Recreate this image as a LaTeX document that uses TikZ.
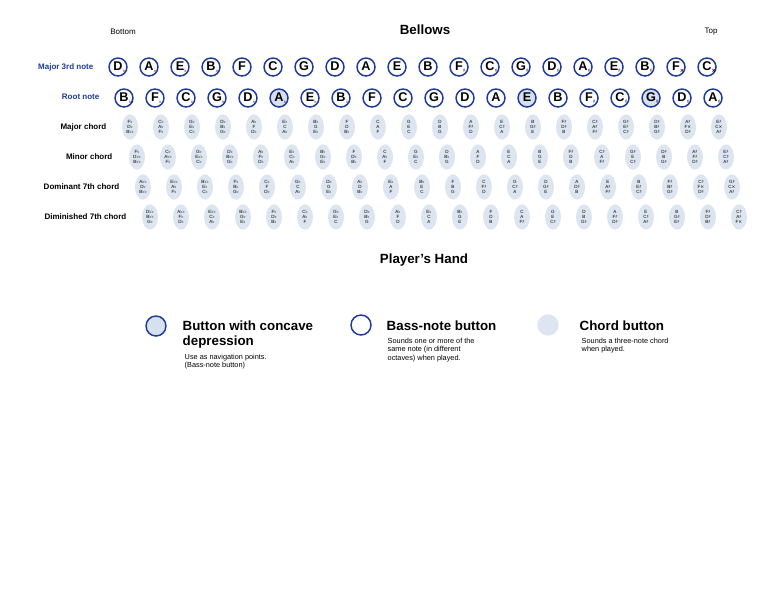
\documentclass[tikz,border=0pt]{standalone}
\usepackage{fontspec}
\setmainfont{Liberation Sans}
\newfontfamily\symf{DejaVu Sans}
\definecolor{bblue}{HTML}{1F3A9A}
\definecolor{lblue}{HTML}{DDE6F0}
\definecolor{cblue}{HTML}{D6E0EE}
\newcommand\nmL[1]{\pgfmathtruncatemacro\nmk{#1+15}\pgfmathtruncatemacro\nml{mod(\nmk,7)}\ifcase\nml F\or C\or G\or D\or A\or E\or B\fi}
\newcommand\nmA[1]{\pgfmathtruncatemacro\nmk{#1+15}\pgfmathtruncatemacro\nma{floor(\nmk/7)}{\symf\ifcase\nma ♭♭\or ♭\or \or ♯\or ×\fi}}
\newcommand\nm[1]{\nmL{#1}\nmA{#1}}
\begin{document}
\begin{tikzpicture}[x=0.75pt,y=-0.75pt,
  bass/.style={circle,draw=bblue,line width=1.1pt,fill=white,minimum size=13.5pt,inner sep=0pt,font=\bfseries\fontsize{9.5}{10}\selectfont},
  concave/.style={bass,fill=cblue},
  chordb/.style={ellipse,fill=lblue,minimum width=12pt,minimum height=19pt,inner sep=0pt,align=center,font=\fontsize{3.4}{3.9}\selectfont},
  rowlab/.style={anchor=east,font=\bfseries\fontsize{6}{7}\selectfont},
  head/.style={font=\bfseries\fontsize{10}{11}\selectfont},
  small/.style={font=\fontsize{5.5}{6.5}\selectfont,align=left,anchor=north west}]
\useasboundingbox (0,0) rectangle (768,593);
\usetikzlibrary{shapes.geometric}
\node[font=\fontsize{6}{7}\selectfont] (bottom) at (123,32) {Bottom};
\node[head] (bellows) at (425,30) {Bellows};
\node[font=\fontsize{6}{7}\selectfont] (top) at (711,32) {Top};
\node[rowlab,text=bblue] (l1) at (98,67) {Major 3rd note};
\node[rowlab,text=bblue] (l2) at (104,97) {Root note};
\node[rowlab] (l3) at (111,127) {Major chord};
\node[rowlab] (l4) at (117,157) {Minor chord};
\node[rowlab] (l5) at (124,187) {Dominant 7th chord};
\node[rowlab] (l6) at (131,217) {Diminished 7th chord};
\foreach \i in {0,...,19}{
  \pgfmathtruncatemacro\n{\i-9}
  \pgfmathtruncatemacro\t{\n+4}
  \node[bass] (m\i) at (118+31*\i,67) {\nmL{\t}\rlap{\raisebox{-1.5pt}{\fontsize{4}{4}\selectfont\nmA{\t}}}};
  \ifnum\i=5 \def\st{concave}\else\ifnum\i=13 \def\st{concave}\else\ifnum\i=17 \def\st{concave}\else\def\st{bass}\fi\fi\fi
  \node[\st] (r\i) at (124+31*\i,98) {\nmL{\n}\rlap{\raisebox{-1.5pt}{\fontsize{4}{4}\selectfont\nmA{\n}}}};
  \pgfmathtruncatemacro\a{\n+1}\pgfmathtruncatemacro\b{\n+4}
  \node[chordb] (M\i) at (130+31*\i,127) {\nm{\a}\\\nm{\b}\\\nm{\n}};
  \pgfmathtruncatemacro\b{\n-3}
  \node[chordb] (N\i) at (137+31*\i,157) {\nm{\a}\\\nm{\b}\\\nm{\n}};
  \pgfmathtruncatemacro\a{\n-2}\pgfmathtruncatemacro\b{\n+4}
  \node[chordb] (S\i) at (143+31*\i,187) {\nm{\a}\\\nm{\b}\\\nm{\n}};
  \pgfmathtruncatemacro\a{\n-3}\pgfmathtruncatemacro\b{\n+3}
  \node[chordb] (D\i) at (150+31*\i,217) {\nm{\a}\\\nm{\n}\\\nm{\b}};
}
\node[head] (hand) at (424,260) {Player's Hand};
\node[circle,draw=bblue,line width=1.1pt,fill=cblue,minimum size=15pt] (lg1) at (156,326) {};
\node[head,anchor=north west,align=left] (t1) at (178,316) {Button with concave\\depression};
\node[small] (s1) at (180,349) {Use as navigation points.\\(Bass-note button)};
\node[circle,draw=bblue,line width=1.1pt,fill=white,minimum size=15pt] (lg2) at (361,325) {};
\node[head,anchor=north west] (t2) at (382,316) {Bass-note button};
\node[small] (s2) at (383,333) {Sounds one or more of the\\same note (in different\\octaves) when played.};
\node[circle,fill=lblue,minimum size=16pt] (lg3) at (548,325) {};
\node[head,anchor=north west] (t3) at (575,316) {Chord button};
\node[small] (s3) at (577,333) {Sounds a three-note chord\\when played.};
\end{tikzpicture}
\end{document}
